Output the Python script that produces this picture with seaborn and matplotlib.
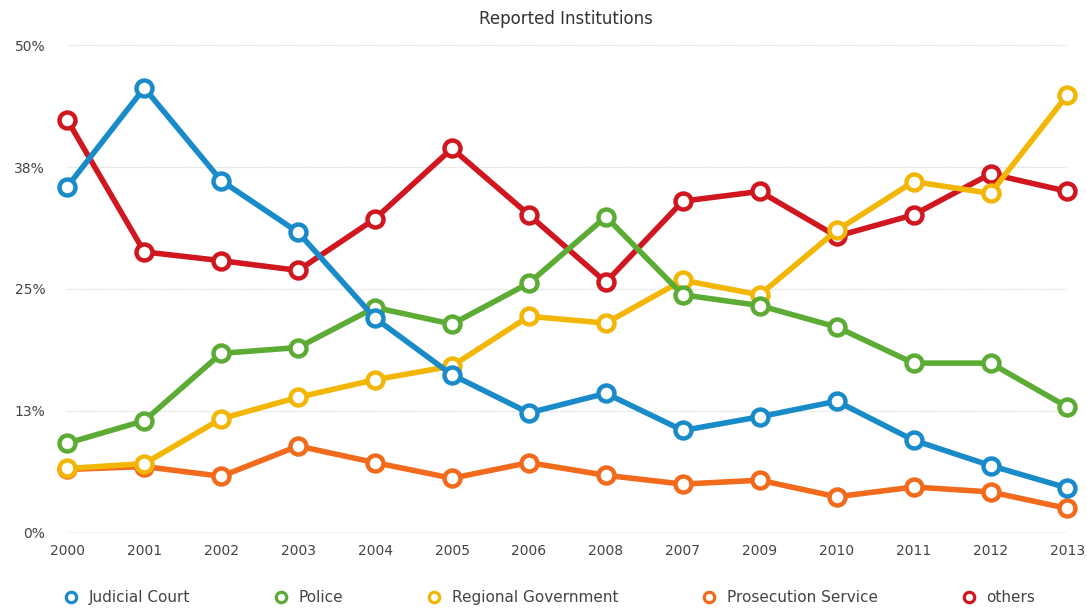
import matplotlib
matplotlib.use("Agg")
import matplotlib.pyplot as plt
from matplotlib.lines import Line2D
import pandas as pd
import seaborn as sns

years = ["2000", "2001", "2002", "2003", "2004", "2005", "2006",
         "2008", "2007", "2009", "2010", "2011", "2012", "2013"]

judicial_court = [35.5, 45.6, 36.1, 30.8, 22.0, 16.2, 12.3, 14.3, 10.5, 11.9, 13.5, 9.5, 6.9, 4.6]
police = [9.2, 11.5, 18.4, 19.0, 23.1, 21.4, 25.6, 32.4, 24.4, 23.3, 21.1, 17.4, 17.4, 12.9]
regional_government = [6.6, 7.1, 11.7, 13.9, 15.7, 17.1, 22.2, 21.5, 25.9, 24.4, 31.0, 36.0, 34.8, 44.9]
prosecution_service = [6.5, 6.8, 5.8, 8.9, 7.2, 5.6, 7.2, 5.9, 5.0, 5.4, 3.7, 4.7, 4.2, 2.5]
others = [42.3, 28.8, 27.9, 26.9, 32.2, 39.4, 32.6, 25.7, 34.0, 35.0, 30.4, 32.6, 36.8, 35.0]

series_names = ["Judicial Court", "Police", "Regional Government", "Prosecution Service", "others"]
series_values = [judicial_court, police, regional_government, prosecution_service, others]
colors = ["#1a8bc9", "#5bab34", "#f2b705", "#f26a1b", "#d0161e"]

ytick_vals = [0, 12.5, 25, 37.5, 50]
ytick_labels = ["0%", "13%", "25%", "38%", "50%"]

rows = []
for name, vals in zip(series_names, series_values):
    for pos, v in enumerate(vals):
        rows.append({"pos": pos, "year": years[pos], "series": name, "value": v})
df = pd.DataFrame(rows)

sns.set_style("white")
plt.rcParams["font.family"] = ["DejaVu Sans"]

fig = plt.figure(figsize=(10.87, 6.09), dpi=100)
ax = fig.add_axes([0.062, 0.125, 0.92, 0.801])

palette = dict(zip(series_names, colors))
# red drawn first, blue last (blue sits on top)
sns.lineplot(data=df, x="pos", y="value", hue="series", hue_order=series_names[::-1],
             palette=palette, marker="o", markersize=11.5, markerfacecolor="white",
             markeredgewidth=3.2, linewidth=4.0, legend=False, ax=ax, clip_on=False)

for ln in ax.lines:
    ln.set_markeredgecolor(ln.get_color())
    ln.set_clip_on(False)

ax.set_xlim(0, len(years) - 1)
ax.set_ylim(0, 50)
ax.set_xticks(range(len(years)))
ax.set_xticklabels(years)
ax.set_yticks(ytick_vals)
ax.set_yticklabels(ytick_labels)
ax.tick_params(axis="both", length=0, labelsize=10, labelcolor="#444444")
ax.tick_params(axis="x", pad=8)
ax.tick_params(axis="y", pad=16)
ax.yaxis.grid(True, color="#d5d5d5", linestyle=(0, (1, 1)), linewidth=0.9)
ax.set_axisbelow(True)
for s in ax.spines.values():
    s.set_visible(False)
ax.axhline(0, color="#cccccc", linewidth=1, zorder=0)
ax.set_xlabel("")
ax.set_ylabel("")

fig.text(0.521, 0.968, "Reported Institutions", ha="center", va="center",
         fontsize=12, color="#333333")

handles = [Line2D([], [], marker="o", linestyle="none", markerfacecolor="white",
                  markeredgecolor=c, markeredgewidth=2.3, markersize=7.5)
           for c in colors]
fig.legend(handles, series_names, loc="lower left", bbox_to_anchor=(0.046, -0.016),
           ncol=5, frameon=False, fontsize=11, columnspacing=5.45, handlelength=1.0,
           handletextpad=0.65, labelcolor="#444444")

fig.savefig("out.png", dpi=100)
